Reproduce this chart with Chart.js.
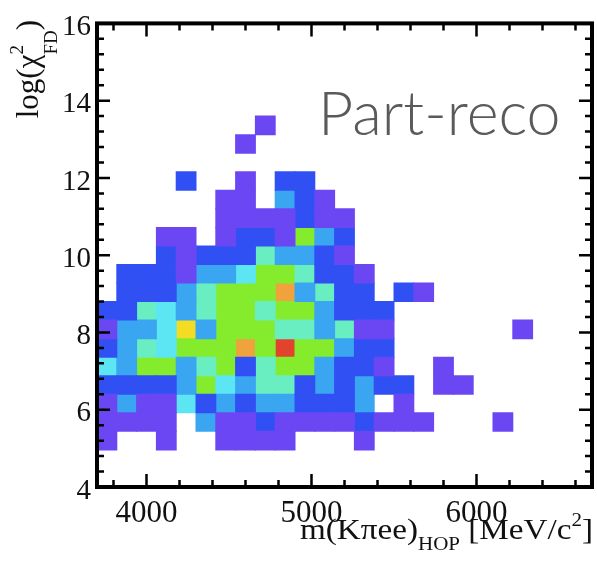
<!DOCTYPE html>
<html>
<head>
<meta charset="utf-8">
<script src="https://cdn.jsdelivr.net/npm/chart.js@4.4.1/dist/chart.umd.min.js"></script>
<style>
  html, body { margin: 0; padding: 0; background: #fff; }
  #wrap { width: 597px; height: 577px; }
</style>
</head>
<body>
<div id="wrap"><canvas id="hopChart" width="597" height="577"></canvas></div>
<script>
// m(K pi e e)_HOP bin edges [MeV/c^2]
const massEdges = [3700, 3820, 3940, 4060, 4180, 4300, 4420, 4540, 4660, 4780, 4900, 5020, 5140,
    5260, 5380, 5500, 5620, 5740, 5860, 5980, 6100, 6220, 6340, 6460, 6580, 6700];
// log(chi2_FD) bin edges
const fdEdges = [4, 4.48, 4.96, 5.44, 5.92, 6.4, 6.88, 7.36, 7.84, 8.32, 8.8, 9.28, 9.76, 10.24,
    10.72, 11.2, 11.68, 12.16, 12.64, 13.12, 13.6, 14.08, 14.56, 15.04, 15.52, 16];

// entries per cell, first row = highest log(chi2) bin, first column = lowest mass bin
const counts = [
    [0,0,0,0,0,0,0,0,0,0,0,0,0,0,0,0,0,0,0,0,0,0,0,0,0],
    [0,0,0,0,0,0,0,0,0,0,0,0,0,0,0,0,0,0,0,0,0,0,0,0,0],
    [0,0,0,0,0,0,0,0,0,0,0,0,0,0,0,0,0,0,0,0,0,0,0,0,0],
    [0,0,0,0,0,0,0,0,0,0,0,0,0,0,0,0,0,0,0,0,0,0,0,0,0],
    [0,0,0,0,0,0,0,0,0,0,0,0,0,0,0,0,0,0,0,0,0,0,0,0,0],
    [0,0,0,0,0,0,0,0,1,0,0,0,0,0,0,0,0,0,0,0,0,0,0,0,0],
    [0,0,0,0,0,0,0,1,0,0,0,0,0,0,0,0,0,0,0,0,0,0,0,0,0],
    [0,0,0,0,0,0,0,0,0,0,0,0,0,0,0,0,0,0,0,0,0,0,0,0,0],
    [0,0,0,0,2,0,0,1,0,2,2,0,0,0,0,0,0,0,0,0,0,0,0,0,0],
    [0,0,0,0,0,0,1,1,0,3,2,1,0,0,0,0,0,0,0,0,0,0,0,0,0],
    [0,0,0,0,0,0,1,1,1,1,2,1,1,0,0,0,0,0,0,0,0,0,0,0,0],
    [0,0,0,1,1,0,1,2,2,1,6,3,2,0,0,0,0,0,0,0,0,0,0,0,0],
    [0,0,0,2,1,2,2,2,5,3,3,2,1,0,0,0,0,0,0,0,0,0,0,0,0],
    [0,2,2,2,1,3,3,4,6,6,5,2,2,1,0,0,0,0,0,0,0,0,0,0,0],
    [0,2,2,2,3,5,6,6,6,8,3,5,2,2,0,2,1,0,0,0,0,0,0,0,0],
    [2,2,5,4,3,5,6,6,5,6,6,3,2,2,2,0,0,0,0,0,0,0,0,0,0],
    [1,3,3,4,7,3,6,6,6,5,5,3,5,1,1,0,0,0,0,0,0,1,0,0,0],
    [2,3,5,4,6,6,6,8,6,9,6,6,3,2,2,0,0,0,0,0,0,0,0,0,0],
    [4,3,6,6,3,5,6,2,5,6,6,3,2,2,1,0,0,1,0,0,0,0,0,0,0],
    [2,2,2,2,3,6,4,3,5,5,2,3,2,3,2,2,0,1,1,0,0,0,0,0,0],
    [1,3,1,1,4,2,3,2,3,3,2,2,2,3,0,1,0,0,0,0,0,0,0,0,0],
    [1,1,1,1,0,3,1,1,2,1,1,1,1,2,1,1,1,0,0,0,1,0,0,0,0],
    [1,0,0,1,0,0,1,1,1,1,0,0,0,1,0,0,0,0,0,0,0,0,0,0,0],
    [0,0,0,0,0,0,0,0,0,0,0,0,0,0,0,0,0,0,0,0,0,0,0,0,0],
    [0,0,0,0,0,0,0,0,0,0,0,0,0,0,0,0,0,0,0,0,0,0,0,0,0]
];

const massTicks = [4000, 5000, 6000];
const fdTicks = [4, 6, 8, 10, 12, 14, 16];

// rainbow palette, index = entries in the cell
const levelColors = [null, '#6b47f4', '#3050f4', '#3aa6f2', '#5ce6f4', '#68eec0',
    '#84ec2c', '#f4dc22', '#f0a23c', '#e2432c'];

const datasets = levelColors.slice(1).map((c, i) => ({
    label: String(i + 1),
    backgroundColor: c,
    data: []
}));
counts.forEach((row, r) => {
    const j = counts.length - 1 - r;
    row.forEach((n, k) => {
        if (n > 0) {
            datasets[n - 1].data.push({
                x: (massEdges[k] + massEdges[k + 1]) / 2,
                y: [fdEdges[j], fdEdges[j + 1]]
            });
        }
    });
});

// text made of pieces with their own size and baseline shift
function runsWidth(ctx, runs) {
    let w = 0;
    runs.forEach(r => {
        ctx.font = r.font;
        w += r.advance !== undefined ? r.advance : ctx.measureText(r.text).width;
    });
    return w;
}
function drawRuns(ctx, runs, x0, y0) {
    let x = x0;
    runs.forEach(r => {
        ctx.font = r.font;
        ctx.fillText(r.text, x, y0 + (r.dy || 0));
        x += r.advance !== undefined ? r.advance : ctx.measureText(r.text).width;
    });
}

const serif = '"Liberation Serif", "DejaVu Serif", serif';

const frameAndLabels = {
    id: 'frameAndLabels',
    afterDatasetsDraw(chart) {
        const {ctx, chartArea: a, scales: {x, y}} = chart;
        ctx.save();
        ctx.strokeStyle = '#000';
        ctx.lineWidth = 2.5;
        ctx.beginPath();
        // inward ticks, 5 subdivisions between labelled values
        for (let i = 0; i < 15; i++) {
            const v = 3800 + 200 * i;
            const px = x.getPixelForValue(v);
            const len = v % 1000 === 0 ? 13 : 7;
            ctx.moveTo(px, a.bottom); ctx.lineTo(px, a.bottom - len);
            ctx.moveTo(px, a.top); ctx.lineTo(px, a.top + len);
        }
        for (let i = 1; i < 30; i++) {
            const py = y.getPixelForValue(4 + 0.4 * i);
            const len = i % 5 === 0 ? 13 : 7;
            ctx.moveTo(a.left, py); ctx.lineTo(a.left + len, py);
            ctx.moveTo(a.right, py); ctx.lineTo(a.right - len, py);
        }
        ctx.stroke();
        ctx.lineWidth = 4;
        ctx.strokeRect(a.left, a.top, a.right - a.left, a.bottom - a.top);

        ctx.fillStyle = '#111';
        ctx.textBaseline = 'alphabetic';
        ctx.textAlign = 'left';

        // x axis title, right aligned under the frame, slightly widened
        const big = '30px ' + serif, small = '19px ' + serif;
        const xRuns = [
            {text: 'm(K\u03c0ee)', font: big},
            {text: 'HOP', font: small, dy: 11},
            {text: ' [MeV/c', font: big},
            {text: '2', font: small, dy: -13},
            {text: ']', font: big}
        ];
        const xw = runsWidth(ctx, xRuns);
        const xSpan = 293;
        ctx.save();
        ctx.translate(a.right + 1 - xSpan, 539);
        ctx.scale(xSpan / xw, 1);
        drawRuns(ctx, xRuns, 0, 0);
        ctx.restore();

        // y axis title, rotated, ending at the top of the frame
        const yBig = '31px ' + serif, yScript = '19px ' + serif;
        const yRuns = [
            {text: 'log(\u03c7', font: yBig},
            {text: '2', font: yScript, dy: -15, advance: 0},
            {text: 'FD', font: yScript, dy: 19},
            {text: ')', font: yBig}
        ];
        const yw = runsWidth(ctx, yRuns);
        ctx.save();
        ctx.translate(38, 20);
        ctx.rotate(-Math.PI / 2);
        drawRuns(ctx, yRuns, -yw, 0);
        ctx.restore();

        // sample label
        ctx.fillStyle = '#5a5a5a';
        ctx.font = '300 61px Lato, "Open Sans", sans-serif';
        ctx.fillText('Part-reco', 318, 135);
        ctx.restore();
    }
};

new Chart(document.getElementById('hopChart'), {
    type: 'bar',
    data: {datasets: datasets},
    plugins: [frameAndLabels],
    options: {
        responsive: false,
        animation: false,
        layout: {padding: {top: 21, right: 5, left: 0, bottom: 0}},
        datasets: {
            bar: {
                grouped: false,
                barPercentage: 1,
                categoryPercentage: 1,
                borderWidth: 0,
                inflateAmount: 0.5
            }
        },
        plugins: {
            legend: {display: false},
            tooltip: {enabled: false}
        },
        scales: {
            x: {
                type: 'linear',
                min: 3700,
                max: 6700,
                offset: false,
                grid: {display: false, drawTicks: false},
                border: {display: false},
                afterBuildTicks: s => { s.ticks = massTicks.map(v => ({value: v})); },
                afterFit: s => { s.height = 90; },
                ticks: {
                    autoSkip: false,
                    maxRotation: 0,
                    padding: 8,
                    color: '#111',
                    callback: v => String(v),
                    font: {family: serif, size: 31}
                }
            },
            y: {
                type: 'linear',
                min: 4,
                max: 16,
                beginAtZero: false,
                grid: {display: false, drawTicks: false},
                border: {display: false},
                afterBuildTicks: s => { s.ticks = fdTicks.map(v => ({value: v})); },
                afterFit: s => { s.width = 97; },
                ticks: {
                    autoSkip: false,
                    padding: 6,
                    labelOffset: 4,
                    color: '#111',
                    callback: v => String(v),
                    font: {family: serif, size: 29}
                }
            }
        }
    }
});
</script>
</body>
</html>
